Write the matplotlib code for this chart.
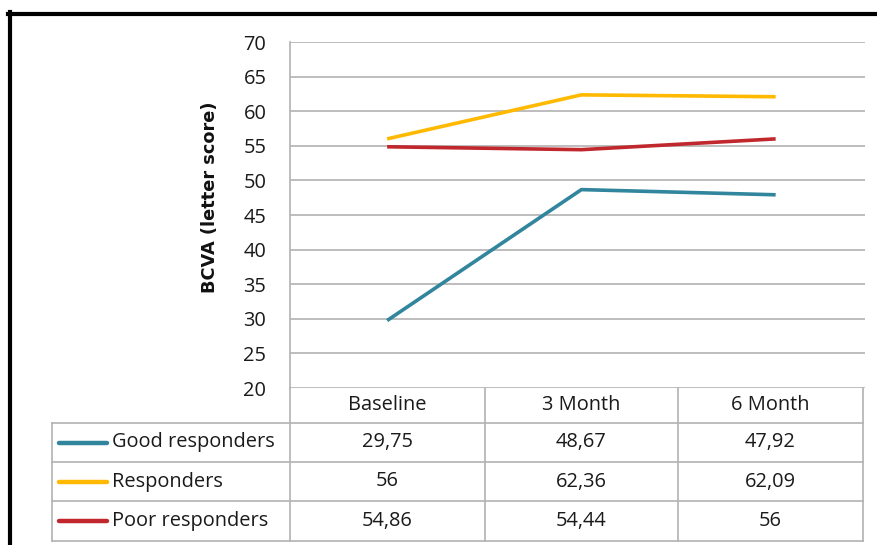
import matplotlib
matplotlib.use("Agg")
import matplotlib.pyplot as plt
from matplotlib.lines import Line2D

plt.rcParams['font.family'] = ['Open Sans', 'DejaVu Sans']

# BCVA letter scores per visit
visits = ['Baseline', '3 Month', '6 Month']
groups = ['Good responders', 'Responders', 'Poor responders']
good = [29.75, 48.67, 47.92]
resp = [56, 62.36, 62.09]
poor = [54.86, 54.44, 56]
colors = ['#31859c', '#ffb900', '#c0282d']
yticks = [20, 25, 30, 35, 40, 45, 50, 55, 60, 65, 70]

W, H = 878, 545
fig = plt.figure(figsize=(W / 100, H / 100), dpi=100)
grid = '#b2b2b2'
txt = '#1a1a1a'
fs = 14.4

def fx(px):
    return px / W

def fy(py):
    return 1 - py / H

# plot area (pixel frame 290..865 x 42..388)
ax = fig.add_axes([fx(290), fy(388), fx(865) - fx(290), fy(42) - fy(388)])
for vals, c in zip([good, resp, poor], colors):
    ax.plot(range(len(visits)), vals, color=c, lw=2.6, solid_capstyle='butt')
ax.set_xlim(-0.5, 2.46)
ax.set_ylim(20, 70)
ax.set_yticks(yticks)
ax.set_yticklabels([str(t) for t in yticks], fontsize=fs, color=txt)
ax.set_xticks([])
ax.tick_params(axis='y', length=0, pad=17)
ax.grid(axis='y', color=grid, lw=1.2)
ax.set_axisbelow(True)
for s in ['top', 'right', 'bottom']:
    ax.spines[s].set_visible(False)
ax.spines['left'].set_color(grid)
ax.spines['left'].set_linewidth(1.2)
ax.set_ylabel('BCVA (letter score)', fontsize=12.8, fontweight='bold',
              family='DejaVu Sans', color='#111111')
ax.yaxis.set_label_coords(-0.124, 0.552)

# data table under the plot, drawn in pixel coordinates
tx = fig.add_axes([0, 0, 1, 1])
tx.set_xlim(0, W)
tx.set_ylim(H, 0)
tx.axis('off')
col_edges = [52, 290, 485, 678, 863]
row_edges = [388, 423, 462, 501, 541]

def hline(y, x0, x1):
    tx.plot([x0, x1], [y, y], color=grid, lw=1.2)

def vline(x, y0, y1):
    tx.plot([x, x], [y0, y1], color=grid, lw=1.2)

for y in row_edges[1:]:
    hline(y, col_edges[0], col_edges[-1])
vline(col_edges[0], row_edges[1], row_edges[-1])
for x in col_edges[1:]:
    vline(x, row_edges[0], row_edges[-1])

for j, v in enumerate(visits):
    cx = (col_edges[j + 1] + col_edges[j + 2]) / 2
    tx.text(cx, (row_edges[0] + row_edges[1]) / 2, v, ha='center', va='center',
            fontsize=fs, color=txt)

for i, (name, vals, c) in enumerate(zip(groups, [good, resp, poor], colors)):
    cy = (row_edges[i + 1] + row_edges[i + 2]) / 2
    tx.plot([59, 107], [cy, cy], color=c, lw=3.2, solid_capstyle='round')
    tx.text(112, cy, name, ha='left', va='center', fontsize=fs, color=txt)
    for j, v in enumerate(vals):
        cx = (col_edges[j + 1] + col_edges[j + 2]) / 2
        tx.text(cx, cy, f'{v:g}'.replace('.', ','), ha='center', va='center',
                fontsize=fs, color=txt)

# outer black frame
fig.add_artist(Line2D([fx(8), 1], [fy(14), fy(14)], color='black', lw=3,
                      transform=fig.transFigure))
fig.add_artist(Line2D([fx(10), fx(10)], [fy(12), 0], color='black', lw=3,
                      transform=fig.transFigure))

fig.savefig('out.png', dpi=100)
